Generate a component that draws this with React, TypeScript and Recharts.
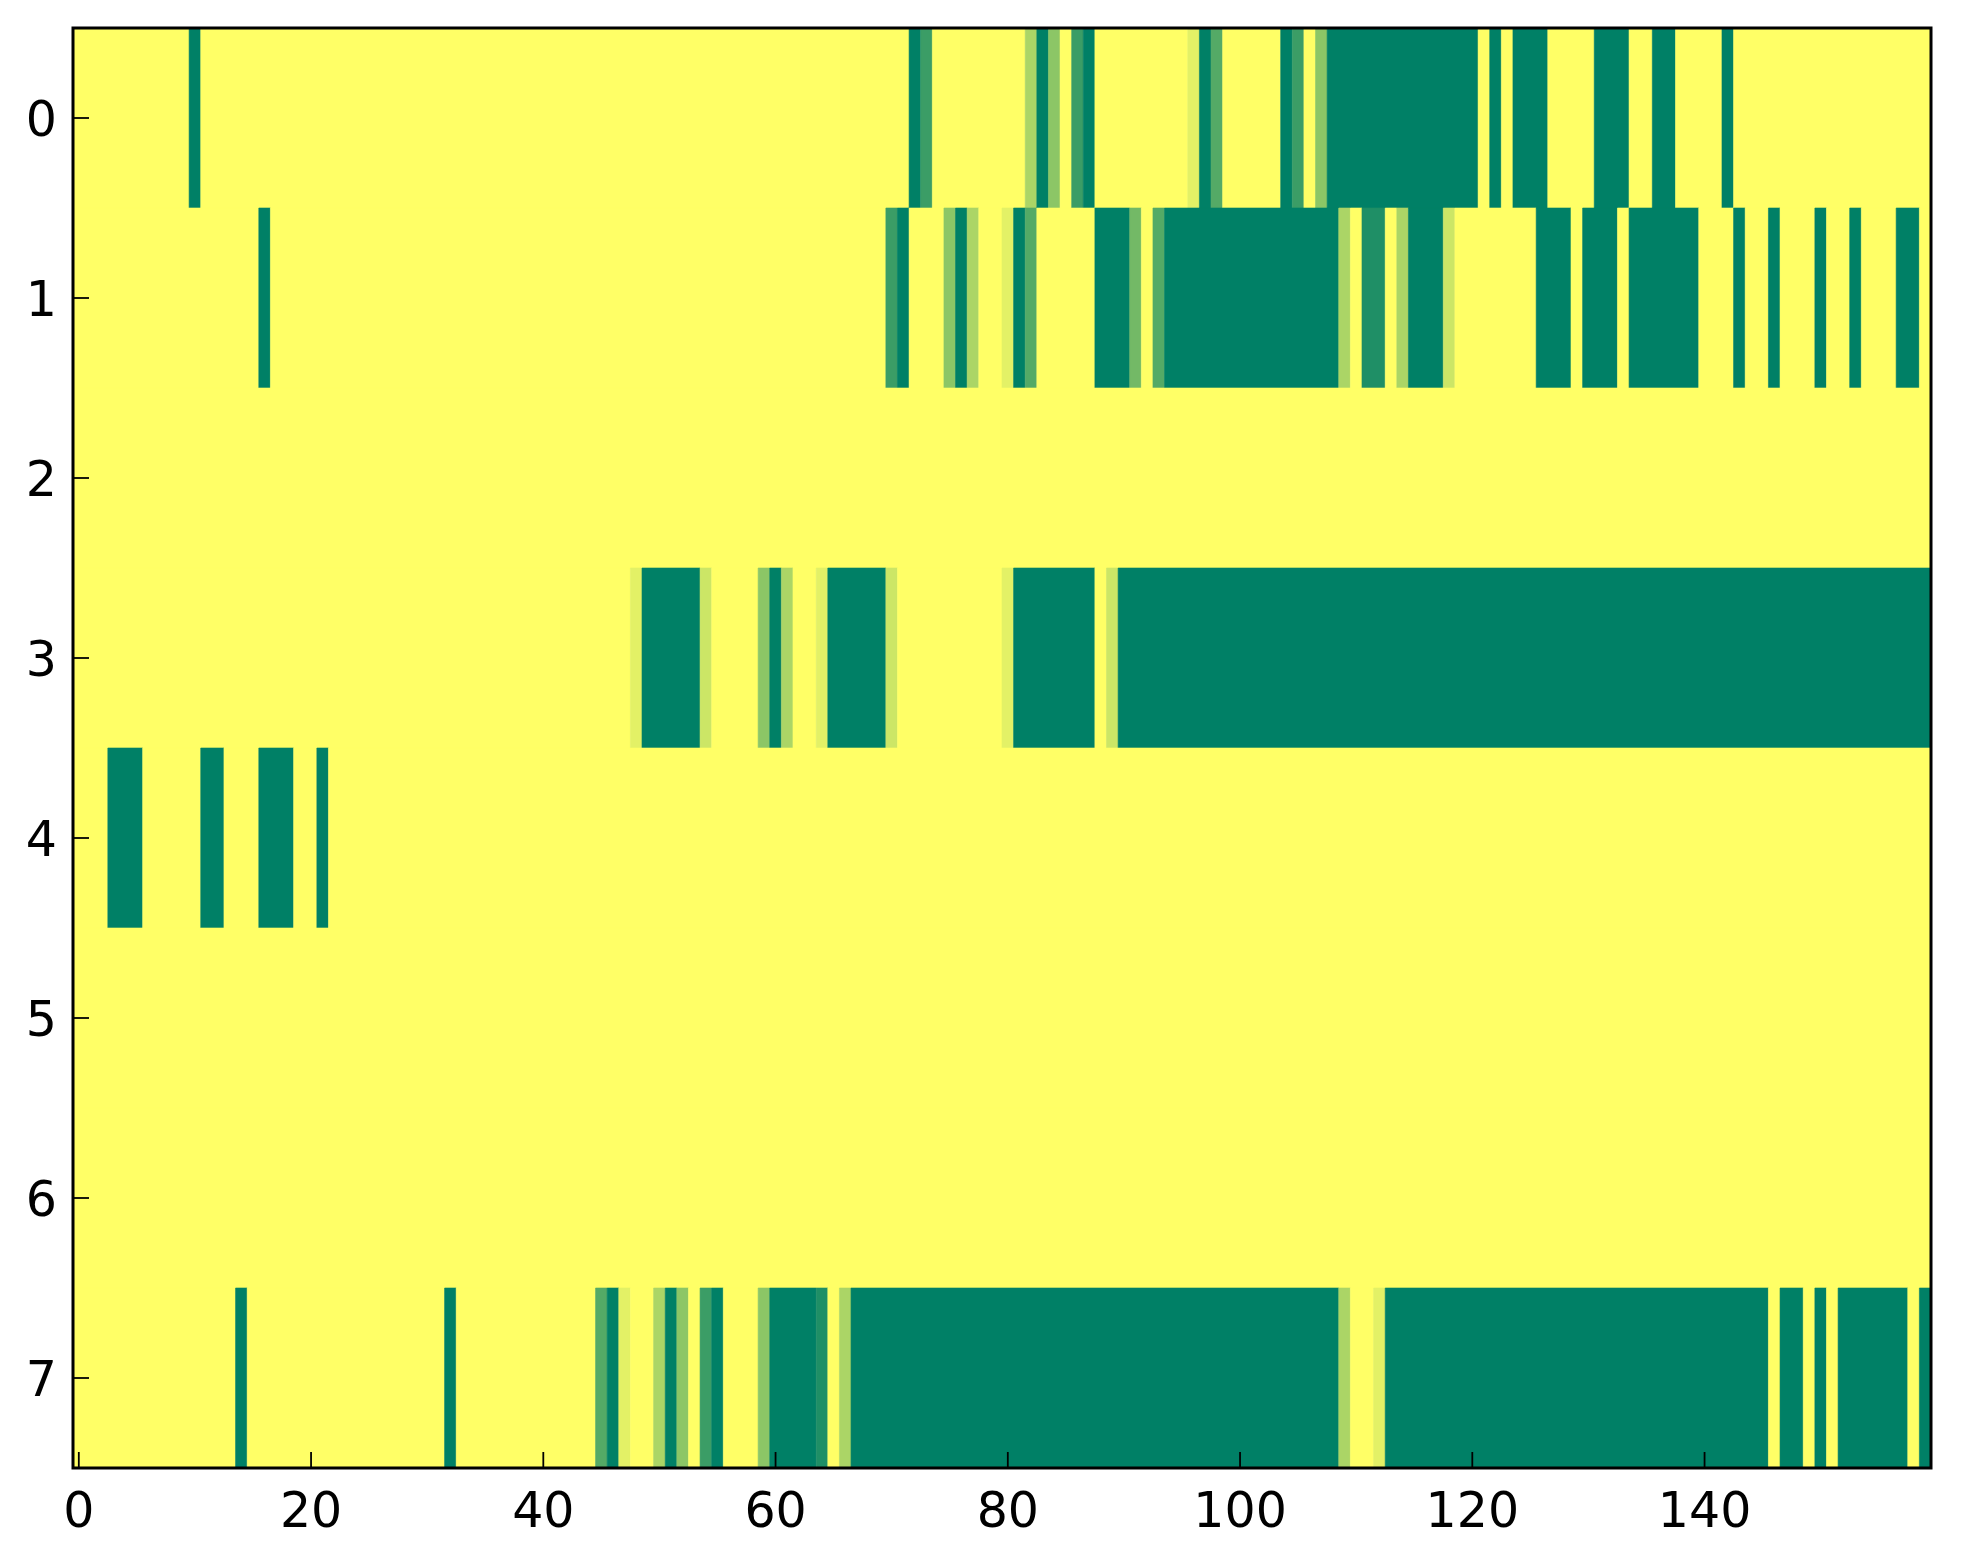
import React from 'react';
import { ComposedChart, XAxis, YAxis, ReferenceArea } from 'recharts';

const N_COLS = 160;
const ROW_IDS = [0, 1, 2, 3, 4, 5, 6, 7];
const X_TICKS = [0, 20, 40, 60, 80, 100, 120, 140];
const Y_TICKS = [0, 1, 2, 3, 4, 5, 6, 7];

// non-zero cells per row: [startCol, endCol, value]
const row0: [number, number, number][] = [
  [10, 10, 1], [72, 72, 1], [73, 73, 0.77], [82, 82, 0.33], [83, 83, 1], [84, 84, 0.45],
  [86, 86, 0.77], [87, 87, 1], [96, 96, 0.11], [97, 97, 1], [98, 98, 0.67], [104, 104, 1],
  [105, 105, 0.77], [107, 107, 0.45], [108, 120, 1], [122, 122, 1], [124, 126, 1],
  [131, 133, 1], [136, 137, 1], [142, 142, 1],
];
const row1: [number, number, number][] = [
  [16, 16, 1], [70, 70, 0.77], [71, 71, 1], [75, 75, 0.45], [76, 76, 1], [77, 77, 0.33],
  [80, 80, 0.11], [81, 81, 1], [82, 82, 0.67], [88, 90, 1], [91, 91, 0.55], [93, 93, 0.67],
  [94, 108, 1], [109, 109, 0.33], [111, 112, 0.88], [114, 114, 0.33], [115, 117, 1],
  [118, 118, 0.2], [126, 128, 1], [130, 132, 1], [134, 139, 1], [143, 143, 1], [146, 146, 1],
  [150, 150, 1], [153, 153, 1], [157, 158, 1],
];
const row2: [number, number, number][] = [];
const row3: [number, number, number][] = [
  [48, 48, 0.11], [49, 53, 1], [54, 54, 0.2], [59, 59, 0.45], [60, 60, 1], [61, 61, 0.33],
  [64, 64, 0.11], [65, 69, 1], [70, 70, 0.2], [80, 80, 0.11], [81, 87, 1], [89, 89, 0.2],
  [90, 159, 1],
];
const row4: [number, number, number][] = [
  [3, 5, 1], [11, 12, 1], [16, 18, 1], [21, 21, 1],
];
const row5: [number, number, number][] = [];
const row6: [number, number, number][] = [];
const row7: [number, number, number][] = [
  [14, 14, 1], [32, 32, 1], [45, 45, 0.67], [46, 46, 1], [47, 47, 0.11], [50, 50, 0.33],
  [51, 51, 1], [52, 52, 0.45], [54, 54, 0.77], [55, 55, 1], [59, 59, 0.45], [60, 63, 1],
  [64, 64, 0.88], [66, 66, 0.33], [67, 108, 1], [109, 109, 0.33], [112, 112, 0.11],
  [113, 145, 1], [147, 148, 1], [150, 150, 1], [152, 157, 1], [159, 159, 1],
];
const ROW_SEGMENTS = [row0, row1, row2, row3, row4, row5, row6, row7];

// summer_r colormap
const colorOf = (v: number) => {
  const r = Math.round(255 * (1 - v));
  const g = Math.round(255 * (1 - v / 2));
  return `rgb(${r},${g},102)`;
};

// full matrix, then runs of equal value
const matrix: number[][] = ROW_IDS.map((r) => {
  const arr = new Array(N_COLS).fill(0);
  ROW_SEGMENTS[r].forEach(([s, e, v]) => {
    for (let c = s; c <= e; c++) arr[c] = v;
  });
  return arr;
});

type Run = { row: number; start: number; end: number; value: number };
const runs: Run[] = [];
matrix.forEach((arr, row) => {
  let start = 0;
  for (let c = 1; c <= N_COLS; c++) {
    if (c === N_COLS || arr[c] !== arr[start]) {
      runs.push({ row, start, end: c - 1, value: arr[start] });
      start = c;
    }
  }
});

const FONT = 'DejaVu Sans';
const FS = 49;
const TL = 16;

const BottomTick = (props: any) => {
  const { x, y, payload } = props;
  return (
    <g>
      <line x1={x} x2={x} y1={y} y2={y - TL} stroke="#000" strokeWidth={1.8} />
      <text x={x} y={y + 59} textAnchor="middle" fontFamily={FONT} fontSize={FS} fill="#000">
        {payload.value}
      </text>
    </g>
  );
};
const TopTick = (props: any) => {
  const { x, y } = props;
  return <line x1={x} x2={x} y1={y} y2={y + TL} stroke="#000" strokeWidth={1.8} />;
};
const LeftTick = (props: any) => {
  const { x, y, payload } = props;
  return (
    <g>
      <line x1={x} x2={x + TL} y1={y} y2={y} stroke="#000" strokeWidth={1.8} />
      <text x={x - 16} y={y + 18} textAnchor="end" fontFamily={FONT} fontSize={FS} fill="#000">
        {payload.value}
      </text>
    </g>
  );
};
const RightTick = (props: any) => {
  const { x, y } = props;
  return <line x1={x} x2={x - TL} y1={y} y2={y} stroke="#000" strokeWidth={1.8} />;
};

export default function App() {
  return (
    <div style={{ position: 'absolute', left: 0, top: 0, background: '#fff' }}>
      <ComposedChart
        width={1963}
        height={1564}
        data={[]}
        margin={{ top: 28, right: 32, bottom: 0, left: 0 }}
      >
        {runs.map((r, i) => (
          <ReferenceArea
            key={i}
            x1={r.start - 0.5}
            x2={r.end + 0.5}
            y1={r.row - 0.5}
            y2={r.row + 0.5}
            fill={colorOf(r.value)}
            fillOpacity={1}
            stroke={colorOf(r.value)}
            strokeWidth={0.6}
            ifOverflow="visible"
          />
        ))}
        <ReferenceArea
          x1={-0.5}
          x2={N_COLS - 0.5}
          y1={-0.5}
          y2={7.5}
          fill="none"
          fillOpacity={0}
          stroke="#000"
          strokeWidth={3}
          ifOverflow="visible"
        />
        <XAxis
          xAxisId={0}
          type="number"
          dataKey="x"
          domain={[-0.5, N_COLS - 0.5]}
          allowDataOverflow
          ticks={X_TICKS}
          interval={0}
          orientation="bottom"
          height={96}
          axisLine={false}
          tickLine={false}
          tickSize={0}
          tickMargin={0}
          tick={<BottomTick />}
        />
        <XAxis
          xAxisId="top"
          type="number"
          dataKey="x"
          domain={[-0.5, N_COLS - 0.5]}
          allowDataOverflow
          ticks={X_TICKS}
          interval={0}
          orientation="top"
          height={0}
          axisLine={false}
          tickLine={false}
          tickSize={0}
          tickMargin={0}
          tick={<TopTick />}
        />
        <YAxis
          yAxisId={0}
          type="number"
          dataKey="y"
          domain={[-0.5, 7.5]}
          allowDataOverflow
          reversed
          ticks={Y_TICKS}
          interval={0}
          orientation="left"
          width={73}
          axisLine={false}
          tickLine={false}
          tickSize={0}
          tickMargin={0}
          tick={<LeftTick />}
        />
        <YAxis
          yAxisId="right"
          type="number"
          dataKey="y"
          domain={[-0.5, 7.5]}
          allowDataOverflow
          reversed
          ticks={Y_TICKS}
          interval={0}
          orientation="right"
          width={0}
          axisLine={false}
          tickLine={false}
          tickSize={0}
          tickMargin={0}
          tick={<RightTick />}
        />
      </ComposedChart>
    </div>
  );
}
